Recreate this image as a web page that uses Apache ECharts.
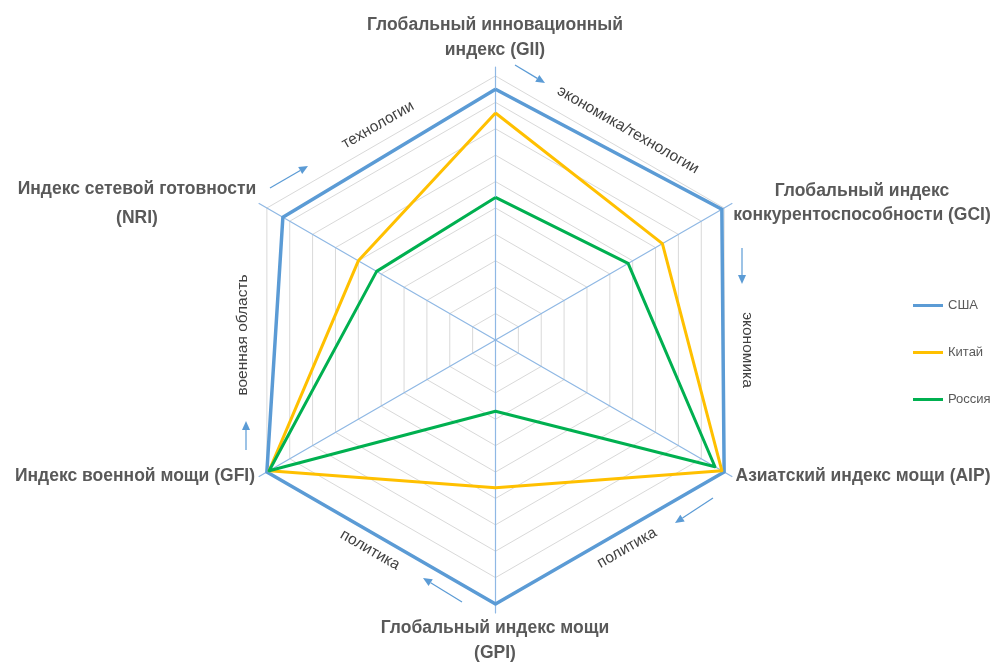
<!DOCTYPE html>
<html><head><meta charset="utf-8">
<script src="https://cdn.jsdelivr.net/npm/echarts@6/dist/echarts.min.js"></script>
<style>html,body{margin:0;padding:0;background:#fff}#c{width:993px;height:662px}</style>
</head><body><div id="c"></div>
<script>
// Indicators in ECharts order (top first, then counter-clockwise)
const indicatorNames = [
  'Глобальный инновационный индекс (GII)',
  'Индекс сетевой готовности (NRI)',
  'Индекс военной мощи (GFI)',
  'Глобальный индекс мощи (GPI)',
  'Азиатский индекс мощи (AIP)',
  'Глобальный индекс конкурентоспособности (GCI)'
];
const seriesNames = ['США', 'Китай', 'Россия'];
const usaValues    = [95, 93, 100, 100, 100, 99];
const chinaValues  = [86, 60, 99, 56, 99, 73];
const russiaValues = [54, 52, 99, 27, 96, 58];
const axisMax = 100;
const splitCount = 10;

const colors = ['#5B9BD5', '#FFC000', '#00B050'];
const textColor = '#595959';
const boldFont = '"Liberation Sans", Arial, sans-serif';

const chart = echarts.init(document.getElementById('c'), null, {renderer: 'canvas'});
const cx = 495.5, cy = 340, R = 264;

function arrow(x1, y1, x2, y2) {
  const ang = Math.atan2(y2 - y1, x2 - x1);
  const hl = 9, hw = 4;
  const bx = x2 - hl * Math.cos(ang), by = y2 - hl * Math.sin(ang);
  const px = -Math.sin(ang) * hw, py = Math.cos(ang) * hw;
  return [
    {type: 'line', shape: {x1: x1, y1: y1, x2: bx, y2: by}, style: {stroke: '#5B9BD5', lineWidth: 1.2}, silent: true},
    {type: 'polygon', shape: {points: [[x2, y2], [bx + px, by + py], [bx - px, by - py]]}, style: {fill: '#5B9BD5'}, silent: true}
  ];
}
function label(text, x, y, align, lh) {
  return {type: 'text', x: x, y: y, silent: true,
    style: {text: text, fill: textColor, font: 'bold 17.5px ' + boldFont, align: align, verticalAlign: 'middle', lineHeight: lh || 25}};
}
function small(text, x, y, rot) {
  return {type: 'text', x: x, y: y, rotation: rot, silent: true,
    style: {text: text, fill: '#404040', font: '15.5px "Liberation Sans", Arial, sans-serif', align: 'center', verticalAlign: 'middle'}};
}

const indicator = indicatorNames.map(n => ({name: n, min: 0, max: axisMax}));

const graphics = [].concat(
  label('Глобальный инновационный\nиндекс (GII)', 495, 37.5, 'center', 25),
  label('Индекс сетевой готовности\n(NRI)', 137, 203.5, 'center', 29),
  label('Глобальный индекс\nконкурентоспособности (GCI)', 862, 203.5, 'center', 24),
  label('Индекс военной мощи (GFI)', 135, 476, 'center'),
  label('Азиатский индекс мощи (AIP)', 863, 476, 'center'),
  label('Глобальный индекс мощи\n(GPI)', 495, 640.5, 'center', 25),
  small('технологии', 378, 125, Math.PI / 6),
  small('экономика/технологии', 628, 130, -Math.PI / 6),
  small('экономика', 747, 350, -Math.PI / 2),
  small('военная область', 243, 335, Math.PI / 2),
  small('политика', 370, 550, -Math.PI / 6),
  small('политика', 627, 548, Math.PI / 6),
  arrow(270, 188, 308, 166),
  arrow(515, 65, 545, 83),
  arrow(742, 248, 742, 284),
  arrow(713, 498, 675, 523),
  arrow(462, 602, 423, 578),
  arrow(246, 450, 246, 421)
);

chart.setOption({
  backgroundColor: '#ffffff',
  animation: false,
  legend: {
    orient: 'vertical', left: 908, top: 294,
    itemWidth: 30, itemHeight: 3, icon: 'rect', itemGap: 34,
    textStyle: {fontSize: 13, color: textColor, fontFamily: boldFont},
    data: seriesNames
  },
  radar: [
    {
      center: [cx, cy], radius: R, startAngle: 90, shape: 'polygon', splitNumber: splitCount,
      indicator: indicator,
      axisName: {show: false},
      axisLine: {show: false},
      axisTick: {show: false}, axisLabel: {show: false},
      splitLine: {show: true, lineStyle: {color: '#D9D9D9', width: 1}},
      splitArea: {show: false}
    },
    {
      center: [cx, cy], radius: R + 9, startAngle: 90, shape: 'polygon', splitNumber: 1,
      indicator: indicator,
      axisName: {show: false},
      axisLine: {show: true, lineStyle: {color: '#8FB8E4', width: 1.2}},
      axisTick: {show: false}, axisLabel: {show: false},
      splitLine: {show: false},
      splitArea: {show: false}
    }
  ],
  series: [{
    type: 'radar', radarIndex: 0, symbol: 'none',
    data: [
      {name: seriesNames[0], value: usaValues, lineStyle: {color: colors[0], width: 3.5}, itemStyle: {color: colors[0]}},
      {name: seriesNames[1], value: chinaValues, lineStyle: {color: colors[1], width: 3}, itemStyle: {color: colors[1]}},
      {name: seriesNames[2], value: russiaValues, lineStyle: {color: colors[2], width: 3}, itemStyle: {color: colors[2]}}
    ]
  }],
  graphic: graphics
});
</script></body></html>
